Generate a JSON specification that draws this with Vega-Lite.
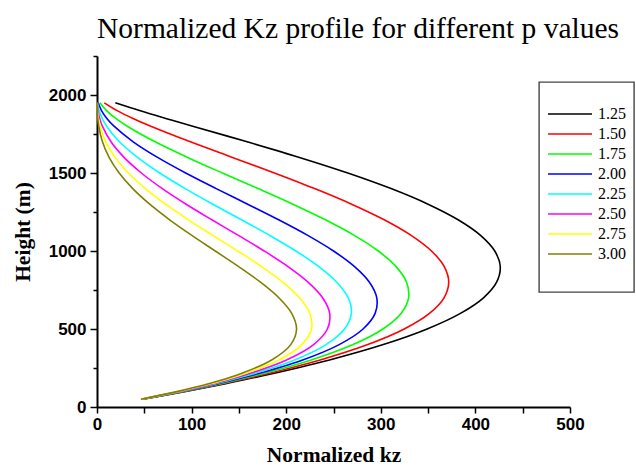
{
  "$schema": "https://vega.github.io/schema/vega-lite/v6.json",
  "width": 473,
  "height": 351,
  "autosize": {"type": "none"},
  "padding": {"left": 97, "top": 56, "right": 66, "bottom": 62},
  "background": "white",
  "title": {
    "text": "Normalized Kz profile for different p values",
    "anchor": "start",
    "frame": "group",
    "font": "Liberation Serif",
    "fontSize": 29.5,
    "fontWeight": "normal",
    "color": "black",
    "baseline": "alphabetic",
    "offset": 21,
    "dy": 33
  },
  "config": {
    "view": {"stroke": null},
    "legend": {"strokeColor": "#444444", "strokeWidth": 1.4},
    "axis": {
      "domainColor": "black",
      "domainWidth": 2,
      "tickColor": "black",
      "tickWidth": 1.5,
      "grid": false,
      "labelFont": "Liberation Sans",
      "labelFontWeight": "bold",
      "labelFontSize": 17,
      "labelColor": "black",
      "titleFont": "Liberation Serif",
      "titleFontWeight": "bold",
      "titleFontSize": 21.5,
      "titleColor": "black"
    }
  },
  "data": {
    "values": [
      {"p": "1.25", "height": 50, "kz": 48.44}, {"p": "1.25", "height": 100, "kz": 93.79}, {"p": "1.25", "height": 150, "kz": 136.07}, {"p": "1.25", "height": 200, "kz": 175.32}, {"p": "1.25", "height": 300, "kz": 244.85}, {"p": "1.25", "height": 400, "kz": 302.64}, {"p": "1.25", "height": 500, "kz": 348.98}, {"p": "1.25", "height": 600, "kz": 384.17}, {"p": "1.25", "height": 700, "kz": 408.55}, {"p": "1.25", "height": 800, "kz": 422.45}, {"p": "1.25", "height": 900, "kz": 426.28}, {"p": "1.25", "height": 1000, "kz": 420.45}, {"p": "1.25", "height": 1100, "kz": 405.42}, {"p": "1.25", "height": 1200, "kz": 381.73}, {"p": "1.25", "height": 1300, "kz": 349.97}, {"p": "1.25", "height": 1400, "kz": 310.83}, {"p": "1.25", "height": 1500, "kz": 265.17}, {"p": "1.25", "height": 1600, "kz": 214.0}, {"p": "1.25", "height": 1700, "kz": 158.7}, {"p": "1.25", "height": 1800, "kz": 101.22}, {"p": "1.25", "height": 1850, "kz": 72.61}, {"p": "1.25", "height": 1900, "kz": 44.92}, {"p": "1.25", "height": 1950, "kz": 19.38},
      {"p": "1.50", "height": 50, "kz": 48.14}, {"p": "1.50", "height": 100, "kz": 92.59}, {"p": "1.50", "height": 150, "kz": 133.45}, {"p": "1.50", "height": 200, "kz": 170.76}, {"p": "1.50", "height": 300, "kz": 235.1}, {"p": "1.50", "height": 400, "kz": 286.22}, {"p": "1.50", "height": 500, "kz": 324.76}, {"p": "1.50", "height": 600, "kz": 351.4}, {"p": "1.50", "height": 700, "kz": 366.83}, {"p": "1.50", "height": 800, "kz": 371.81}, {"p": "1.50", "height": 900, "kz": 367.1}, {"p": "1.50", "height": 1000, "kz": 353.55}, {"p": "1.50", "height": 1100, "kz": 332.06}, {"p": "1.50", "height": 1200, "kz": 303.58}, {"p": "1.50", "height": 1300, "kz": 269.18}, {"p": "1.50", "height": 1400, "kz": 230.04}, {"p": "1.50", "height": 1500, "kz": 187.5}, {"p": "1.50", "height": 1600, "kz": 143.11}, {"p": "1.50", "height": 1700, "kz": 98.76}, {"p": "1.50", "height": 1800, "kz": 56.92}, {"p": "1.50", "height": 1850, "kz": 38.0}, {"p": "1.50", "height": 1900, "kz": 21.24}, {"p": "1.50", "height": 1950, "kz": 7.71},
      {"p": "1.75", "height": 50, "kz": 47.83}, {"p": "1.75", "height": 100, "kz": 91.41}, {"p": "1.75", "height": 150, "kz": 130.87}, {"p": "1.75", "height": 200, "kz": 166.32}, {"p": "1.75", "height": 300, "kz": 225.74}, {"p": "1.75", "height": 400, "kz": 270.69}, {"p": "1.75", "height": 500, "kz": 302.22}, {"p": "1.75", "height": 600, "kz": 321.42}, {"p": "1.75", "height": 700, "kz": 329.38}, {"p": "1.75", "height": 800, "kz": 327.23}, {"p": "1.75", "height": 900, "kz": 316.14}, {"p": "1.75", "height": 1000, "kz": 297.3}, {"p": "1.75", "height": 1100, "kz": 271.97}, {"p": "1.75", "height": 1200, "kz": 241.43}, {"p": "1.75", "height": 1300, "kz": 207.04}, {"p": "1.75", "height": 1400, "kz": 170.25}, {"p": "1.75", "height": 1500, "kz": 132.58}, {"p": "1.75", "height": 1600, "kz": 95.7}, {"p": "1.75", "height": 1700, "kz": 61.46}, {"p": "1.75", "height": 1800, "kz": 32.01}, {"p": "1.75", "height": 1850, "kz": 19.88}, {"p": "1.75", "height": 1900, "kz": 10.05}, {"p": "1.75", "height": 1950, "kz": 3.06},
      {"p": "2.00", "height": 50, "kz": 47.53}, {"p": "2.00", "height": 100, "kz": 90.25}, {"p": "2.00", "height": 150, "kz": 128.34}, {"p": "2.00", "height": 200, "kz": 162.0}, {"p": "2.00", "height": 300, "kz": 216.75}, {"p": "2.00", "height": 400, "kz": 256.0}, {"p": "2.00", "height": 500, "kz": 281.25}, {"p": "2.00", "height": 600, "kz": 294.0}, {"p": "2.00", "height": 700, "kz": 295.75}, {"p": "2.00", "height": 800, "kz": 288.0}, {"p": "2.00", "height": 900, "kz": 272.25}, {"p": "2.00", "height": 1000, "kz": 250.0}, {"p": "2.00", "height": 1100, "kz": 222.75}, {"p": "2.00", "height": 1200, "kz": 192.0}, {"p": "2.00", "height": 1300, "kz": 159.25}, {"p": "2.00", "height": 1400, "kz": 126.0}, {"p": "2.00", "height": 1500, "kz": 93.75}, {"p": "2.00", "height": 1600, "kz": 64.0}, {"p": "2.00", "height": 1700, "kz": 38.25}, {"p": "2.00", "height": 1800, "kz": 18.0}, {"p": "2.00", "height": 1850, "kz": 10.41}, {"p": "2.00", "height": 1900, "kz": 4.75}, {"p": "2.00", "height": 1950, "kz": 1.22},
      {"p": "2.25", "height": 50, "kz": 47.23}, {"p": "2.25", "height": 100, "kz": 89.1}, {"p": "2.25", "height": 150, "kz": 125.87}, {"p": "2.25", "height": 200, "kz": 157.79}, {"p": "2.25", "height": 300, "kz": 208.12}, {"p": "2.25", "height": 400, "kz": 242.11}, {"p": "2.25", "height": 500, "kz": 261.73}, {"p": "2.25", "height": 600, "kz": 268.92}, {"p": "2.25", "height": 700, "kz": 265.55}, {"p": "2.25", "height": 800, "kz": 253.47}, {"p": "2.25", "height": 900, "kz": 234.45}, {"p": "2.25", "height": 1000, "kz": 210.22}, {"p": "2.25", "height": 1100, "kz": 182.44}, {"p": "2.25", "height": 1200, "kz": 152.69}, {"p": "2.25", "height": 1300, "kz": 122.49}, {"p": "2.25", "height": 1400, "kz": 93.25}, {"p": "2.25", "height": 1500, "kz": 66.29}, {"p": "2.25", "height": 1600, "kz": 42.8}, {"p": "2.25", "height": 1700, "kz": 23.8}, {"p": "2.25", "height": 1800, "kz": 10.12}, {"p": "2.25", "height": 1850, "kz": 5.45}, {"p": "2.25", "height": 1900, "kz": 2.25}, {"p": "2.25", "height": 1950, "kz": 0.48},
      {"p": "2.50", "height": 50, "kz": 46.93}, {"p": "2.50", "height": 100, "kz": 87.96}, {"p": "2.50", "height": 150, "kz": 123.44}, {"p": "2.50", "height": 200, "kz": 153.69}, {"p": "2.50", "height": 300, "kz": 199.83}, {"p": "2.50", "height": 400, "kz": 228.97}, {"p": "2.50", "height": 500, "kz": 243.57}, {"p": "2.50", "height": 600, "kz": 245.98}, {"p": "2.50", "height": 700, "kz": 238.44}, {"p": "2.50", "height": 800, "kz": 223.08}, {"p": "2.50", "height": 900, "kz": 201.91}, {"p": "2.50", "height": 1000, "kz": 176.78}, {"p": "2.50", "height": 1100, "kz": 149.43}, {"p": "2.50", "height": 1200, "kz": 121.43}, {"p": "2.50", "height": 1300, "kz": 94.21}, {"p": "2.50", "height": 1400, "kz": 69.01}, {"p": "2.50", "height": 1500, "kz": 46.88}, {"p": "2.50", "height": 1600, "kz": 28.62}, {"p": "2.50", "height": 1700, "kz": 14.81}, {"p": "2.50", "height": 1800, "kz": 5.69}, {"p": "2.50", "height": 1850, "kz": 2.85}, {"p": "2.50", "height": 1900, "kz": 1.06}, {"p": "2.50", "height": 1950, "kz": 0.19},
      {"p": "2.75", "height": 50, "kz": 46.64}, {"p": "2.75", "height": 100, "kz": 86.84}, {"p": "2.75", "height": 150, "kz": 121.05}, {"p": "2.75", "height": 200, "kz": 149.69}, {"p": "2.75", "height": 300, "kz": 191.88}, {"p": "2.75", "height": 400, "kz": 216.55}, {"p": "2.75", "height": 500, "kz": 226.67}, {"p": "2.75", "height": 600, "kz": 224.99}, {"p": "2.75", "height": 700, "kz": 214.1}, {"p": "2.75", "height": 800, "kz": 196.34}, {"p": "2.75", "height": 900, "kz": 173.88}, {"p": "2.75", "height": 1000, "kz": 148.65}, {"p": "2.75", "height": 1100, "kz": 122.38}, {"p": "2.75", "height": 1200, "kz": 96.57}, {"p": "2.75", "height": 1300, "kz": 72.47}, {"p": "2.75", "height": 1400, "kz": 51.08}, {"p": "2.75", "height": 1500, "kz": 33.15}, {"p": "2.75", "height": 1600, "kz": 19.14}, {"p": "2.75", "height": 1700, "kz": 9.22}, {"p": "2.75", "height": 1800, "kz": 3.2}, {"p": "2.75", "height": 1850, "kz": 1.49}, {"p": "2.75", "height": 1900, "kz": 0.5}, {"p": "2.75", "height": 1950, "kz": 0.08},
      {"p": "3.00", "height": 50, "kz": 46.34}, {"p": "3.00", "height": 100, "kz": 85.74}, {"p": "3.00", "height": 150, "kz": 118.72}, {"p": "3.00", "height": 200, "kz": 145.8}, {"p": "3.00", "height": 300, "kz": 184.24}, {"p": "3.00", "height": 400, "kz": 204.8}, {"p": "3.00", "height": 500, "kz": 210.94}, {"p": "3.00", "height": 600, "kz": 205.8}, {"p": "3.00", "height": 700, "kz": 192.24}, {"p": "3.00", "height": 800, "kz": 172.8}, {"p": "3.00", "height": 900, "kz": 149.74}, {"p": "3.00", "height": 1000, "kz": 125.0}, {"p": "3.00", "height": 1100, "kz": 100.24}, {"p": "3.00", "height": 1200, "kz": 76.8}, {"p": "3.00", "height": 1300, "kz": 55.74}, {"p": "3.00", "height": 1400, "kz": 37.8}, {"p": "3.00", "height": 1500, "kz": 23.44}, {"p": "3.00", "height": 1600, "kz": 12.8}, {"p": "3.00", "height": 1700, "kz": 5.74}, {"p": "3.00", "height": 1800, "kz": 1.8}, {"p": "3.00", "height": 1850, "kz": 0.78}, {"p": "3.00", "height": 1900, "kz": 0.24}, {"p": "3.00", "height": 1950, "kz": 0.03}
    ]
  },
  "mark": {"type": "line", "strokeWidth": 1.6, "interpolate": "catmull-rom"},
  "encoding": {
    "x": {
      "field": "kz",
      "type": "quantitative",
      "scale": {"domain": [0, 500], "nice": false, "zero": false},
      "axis": {
        "title": "Normalized kz",
        "values": [0, 50, 100, 150, 200, 250, 300, 350, 400, 450, 500],
        "labelExpr": "datum.value % 100 === 0 ? datum.label : ''",
        "tickSize": 6,
        "labelPadding": 3,
        "titlePadding": 12,
        "labelFlush": false
      }
    },
    "y": {
      "field": "height",
      "type": "quantitative",
      "scale": {"domain": [0, 2250], "nice": false, "zero": false},
      "axis": {
        "title": "Height (m)",
        "values": [0, 250, 500, 750, 1000, 1250, 1500, 1750, 2000, 2250],
        "labelExpr": "datum.value % 500 === 0 ? datum.label : ''",
        "format": "d",
        "tickSize": {"condition": {"test": "datum.value % 500 === 0", "value": 7}, "value": 4},
        "labelPadding": 4,
        "titlePadding": 14,
        "labelFlush": false
      }
    },
    "color": {
      "field": "p",
      "type": "nominal",
      "scale": {
        "domain": ["1.25", "1.50", "1.75", "2.00", "2.25", "2.50", "2.75", "3.00", " "],
        "range": ["#000000", "#ff0000", "#00ff00", "#0000ff", "#00ffff", "#ff00ff", "#ffff00", "#808000", "transparent"]
      },
      "legend": {
        "title": " ",
        "titleFontSize": 10,
        "titlePadding": 4,
        "orient": "none",
        "legendX": 442,
        "legendY": 26,
        "padding": 8,
        "fillColor": "white",
        "symbolType": "stroke",
        "symbolSize": 1936,
        "symbolStrokeWidth": 1.55,
        "clipHeight": 20,
        "labelFont": "Liberation Serif",
        "labelFontSize": 16,
        "labelColor": "black",
        "labelOffset": 5,
        "rowPadding": 0
      }
    },
    "order": {"field": "height", "type": "quantitative"}
  }
}
